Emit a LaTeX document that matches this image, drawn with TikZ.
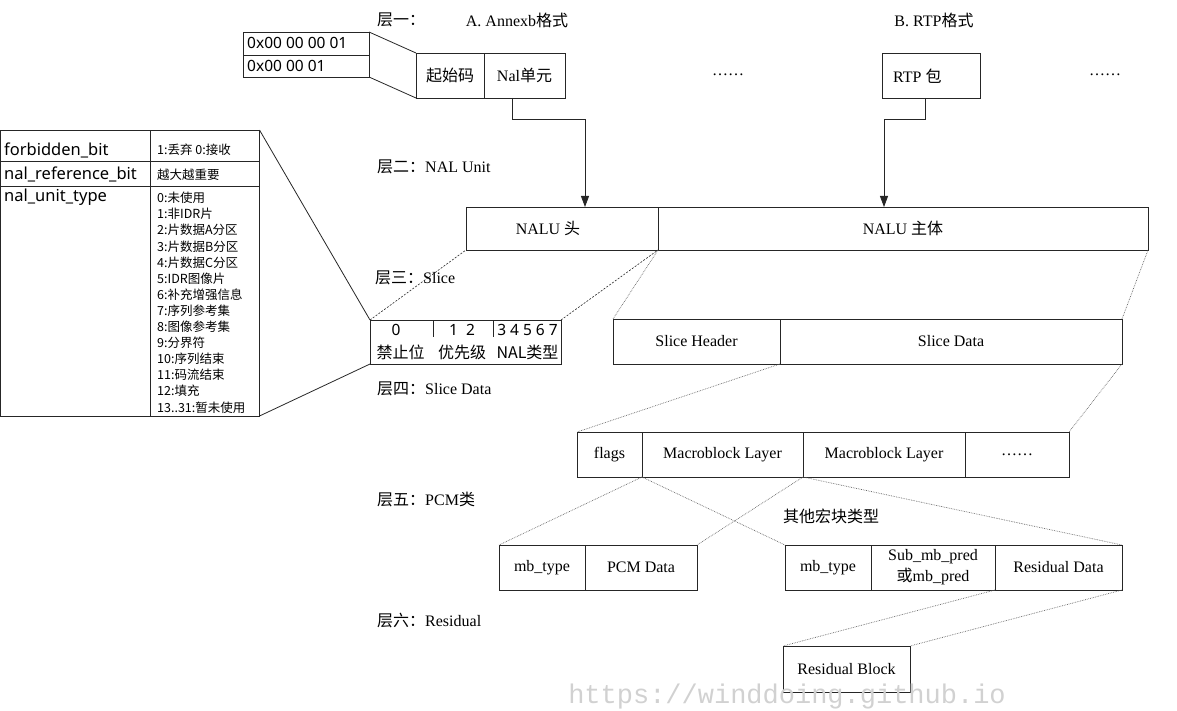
\documentclass[tikz,border=0pt]{standalone}
\usepackage{fontspec}
\setmainfont{Liberation Serif}
\newfontfamily\cjk{Noto Sans CJK SC}
\newfontfamily\sansf{Noto Sans}
\newfontfamily\wmfont{Liberation Mono}
\usetikzlibrary{arrows.meta}
\newcommand\fsz[1]{\fontsize{#1}{#1}\selectfont}
\begin{document}
\begin{tikzpicture}[x=1pt,y=-1pt,
  box/.style={draw=black!85, line width=0.9pt, anchor=north west, inner sep=0pt, outer sep=0pt, font=\fsz{16}},
  lbl/.style={inner sep=0pt, font=\fsz{16}},
  stxt/.style={inner sep=0pt, font=\sansf\fsz{15.5}},
  ltxt/.style={inner sep=0pt, font=\sansf\fsz{16.5}},
  ctxt/.style={inner sep=0pt, font=\cjk\fsz{12.5}},
  btxt/.style={inner sep=0pt, font=\cjk\fsz{16}},
  dotl/.style={draw=black!60, line width=0.7pt, densely dotted},
  dashl/.style={draw=black!85, line width=0.6pt, dash pattern=on 2pt off 1.5pt},
  sol/.style={draw=black!85, line width=0.8pt},
  arr/.style={draw=black!85, line width=0.8pt, -{Triangle[width=8pt,length=11pt]}},
]
\useasboundingbox (0,0) rectangle (1177,711);

% ---- layer 1
\node[lbl, anchor=west] (L1) at (377,20) {\cjk 层一：};
\node[lbl] (LA) at (517,20) {A. Annexb{\cjk 格式}};
\node[lbl] (LB) at (934,20) {B. RTP{\cjk 格式}};

\node[box, minimum width=126pt, minimum height=23pt] (hex1) at (243,32) {};
\node[box, minimum width=126pt, minimum height=22pt] (hex2) at (243,55) {};
\node[stxt, anchor=west] (hex1t) at (247,43) {0x00 00 00 01};
\node[stxt, anchor=west] (hex2t) at (247,66) {0x00 00 01};

\node[box, minimum width=68pt, minimum height=45pt] (qsm) at (416,53) {\cjk 起始码};
\node[box, minimum width=81pt, minimum height=45pt] (nal) at (484,53) {Nal{\cjk 单元}};
\draw[sol] (hex1.north east) -- (qsm.north west);
\draw[sol] (hex2.south east) -- (qsm.south west);

\node[lbl] (d1) at (728,75) {……};
\node[box, minimum width=98pt, minimum height=45pt] (rtp) at (882,53) {};
\node[lbl, anchor=west] (rtpt) at (893,76) {RTP {\cjk 包}};
\node[lbl] (d2) at (1105,75) {……};

% ---- layer 2
\node[lbl, anchor=west] (L2) at (377,167) {{\cjk 层二：}NAL Unit};
\node[box, minimum width=192pt, minimum height=43pt] (nh) at (466,207) {};
\node[lbl] (nht) at (548,228.5) {NALU {\cjk 头}};
\node[box, minimum width=490pt, minimum height=43pt] (nb) at (658,207) {NALU {\cjk 主体}};

\draw[arr] ([xshift=-12pt]nal.south) -- ++(0,21) -| ([xshift=23pt]nh.north);
\draw[arr] ([xshift=-6pt]rtp.south) -- ++(0,21) -| ([xshift=-19pt]nb.north);

% ---- left table
\node[box, minimum width=150pt, minimum height=31pt] (t1L) at (0.5,130) {};
\node[box, minimum width=109pt, minimum height=31pt] (t1R) at (150.5,130) {};
\node[box, minimum width=150pt, minimum height=25pt] (t2L) at (0.5,161) {};
\node[box, minimum width=109pt, minimum height=25pt] (t2R) at (150.5,161) {};
\node[box, minimum width=150pt, minimum height=230pt] (t3L) at (0.5,186) {};
\node[box, minimum width=109pt, minimum height=230pt] (t3R) at (150.5,186) {};
\node[ltxt, anchor=west] (f1) at (4,150) {forbidden\_bit};
\node[ltxt, anchor=west] (f2) at (4,174.5) {nal\_reference\_bit};
\node[ltxt, anchor=west] (f3) at (4,197) {nal\_unit\_type};
\node[ctxt, anchor=west] (v1) at (157,150) {1:丢弃 0:接收};
\node[ctxt, anchor=west] (v2) at (157,175) {越大越重要};
\foreach \t [count=\i from 0] in {0:未使用,1:非IDR片,2:片数据A分区,3:片数据B分区,4:片数据C分区,5:IDR图像片,6:补充增强信息,7:序列参考集,8:图像参考集,9:分界符,10:序列结束,11:码流结束,12:填充,13..31:暂未使用}
  \node[ctxt, anchor=west] (li\i) at (157,{198+16.1*\i}) {\t};

% ---- bit box
\node[box, minimum width=191pt, minimum height=44pt] (bit) at (370,320) {};
\draw[sol] ([xshift=63pt]bit.north west) -- ++(0,17);
\draw[sol] ([xshift=123pt]bit.north west) -- ++(0,17);
\node[inner sep=0pt, font=\sansf\fsz{15.5}] (b0) at (396,329.5) {0};
\node[inner sep=0pt, font=\sansf\fsz{15.5}] (b1) at (462,329.5) {1\hspace{8pt}2};
\node[inner sep=0pt, font=\sansf\fsz{15.5}] (b2) at (527.5,329.5) {3 4 5 6 7};
\node[btxt] (c0) at (400.5,352) {禁止位};
\node[btxt] (c1) at (462,352) {优先级};
\node[btxt] (c2) at (527.5,352) {NAL类型};

\draw[sol] (t1R.north east) -- (bit.north west);
\draw[sol] (t3R.south east) -- (bit.south west);
\draw[dashl] (bit.north west) -- (nh.south west);
\draw[dashl] (bit.north east) -- (nh.south east);

% ---- layer 3
\node[lbl, anchor=west] (L3) at (375,278) {{\cjk 层三：}Slice};
\node[box, minimum width=167pt, minimum height=45pt] (sh) at (613,319) {Slice Header};
\node[box, minimum width=342pt, minimum height=45pt] (sd) at (780,319) {Slice Data};
\draw[dotl] (nh.south east) -- (sh.north west);
\draw[dotl] (nb.south east) -- (sd.north east);

% ---- layer 4
\node[lbl, anchor=west] (L4) at (377,389) {{\cjk 层四：}Slice Data};
\node[box, minimum width=65pt, minimum height=45pt] (fl) at (577,432) {flags};
\node[box, minimum width=161pt, minimum height=45pt] (mb1) at (642,432) {Macroblock Layer};
\node[box, minimum width=162pt, minimum height=45pt] (mb2) at (803,432) {Macroblock Layer};
\node[box, minimum width=104pt, minimum height=45pt] (mbd) at (965,432) {……};
\draw[dotl] (sd.south west) -- (fl.north west);
\draw[dotl] (sd.south east) -- (mbd.north east);

% ---- layer 5
\node[lbl, anchor=west] (L5) at (377,499) {{\cjk 层五：}PCM{\cjk 类}};
\node[lbl] (other) at (831,516) {\cjk 其他宏块类型};
\node[box, minimum width=86pt, minimum height=45pt] (p1) at (499,545) {mb\_type};
\node[box, minimum width=112pt, minimum height=45pt] (p2) at (585,545) {PCM Data};
\node[box, minimum width=86pt, minimum height=45pt] (o1) at (785,545) {mb\_type};
\node[box, minimum width=124pt, minimum height=45pt, align=center, font=\fontsize{16}{21}\selectfont] (o2) at (871,545) {Sub\_mb\_pred\\{\cjk 或}mb\_pred};
\node[box, minimum width=127pt, minimum height=45pt] (o3) at (995,545) {Residual Data};
\draw[dotl] (mb1.south west) -- (p1.north west);
\draw[dotl] (mb1.south west) -- (o1.north west);
\draw[dotl] (mb1.south east) -- (p2.north east);
\draw[dotl] (mb1.south east) -- (o3.north east);

% ---- layer 6
\node[lbl, anchor=west] (L6) at (377,621) {{\cjk 层六：}Residual};
\node[box, minimum width=127pt, minimum height=46pt] (rb) at (783,646) {Residual Block};
\draw[dotl] (o3.south west) -- (rb.north west);
\draw[dotl] (o3.south east) -- (rb.north east);

% ---- watermark
\node[inner sep=0pt, text=black!18, font=\wmfont\fsz{27}] (wm) at (787,697) {https://winddoing.github.io};
\end{tikzpicture}
\end{document}
